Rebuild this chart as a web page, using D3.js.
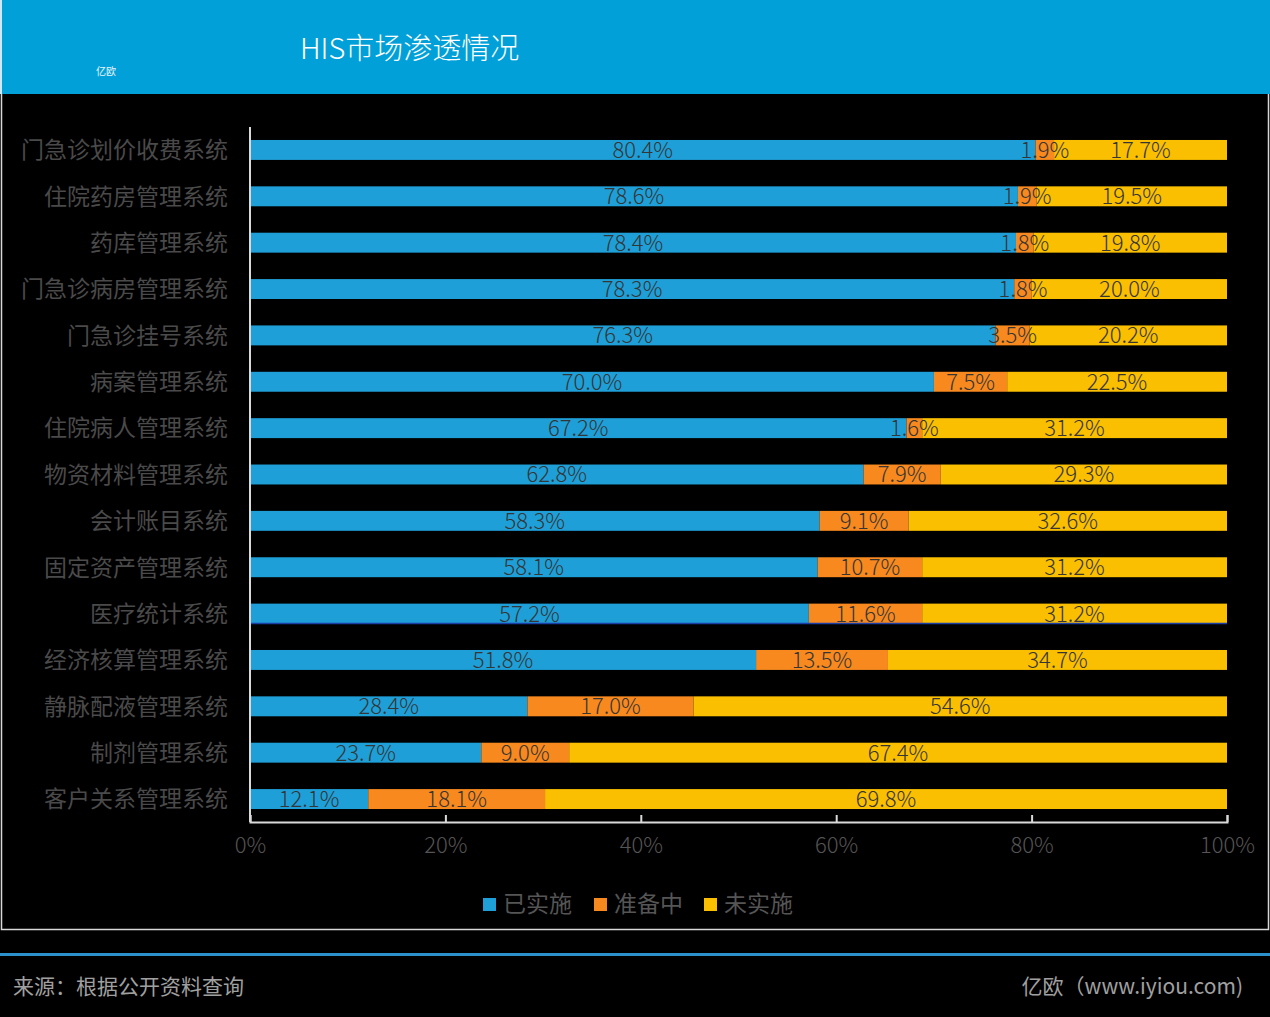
<!DOCTYPE html>
<html>
<head>
<meta charset="utf-8">
<script src="https://cdn.jsdelivr.net/npm/d3@7"></script>
<style>
  body { margin: 0; background: #000; }
  svg text { font-family: "Noto Sans CJK SC", "Noto Sans", sans-serif; }
</style>
</head>
<body>
<div id="chart"></div>
<script>
// categories, top to bottom
var categories = ['门急诊划价收费系统', '住院药房管理系统', '药库管理系统', '门急诊病房管理系统', '门急诊挂号系统',
    '病案管理系统', '住院病人管理系统', '物资材料管理系统', '会计账目系统', '固定资产管理系统',
    '医疗统计系统', '经济核算管理系统', '静脉配液管理系统', '制剂管理系统', '客户关系管理系统'];
var done = [80.4, 78.6, 78.4, 78.3, 76.3, 70.0, 67.2, 62.8, 58.3, 58.1, 57.2, 51.8, 28.4, 23.7, 12.1];
var preparing = [1.9, 1.9, 1.8, 1.8, 3.5, 7.5, 1.6, 7.9, 9.1, 10.7, 11.6, 13.5, 17.0, 9.0, 18.1];
var notDone = [17.7, 19.5, 19.8, 20.0, 20.2, 22.5, 31.2, 29.3, 32.6, 31.2, 31.2, 34.7, 54.6, 67.4, 69.8];
var seriesNames = ['已实施', '准备中', '未实施'];
var xTicks = [0, 0.2, 0.4, 0.6, 0.8, 1];

var colors = ['#1f9fd7', '#f7891f', '#f9bf00'];

var W = 1270, H = 1017;
var svg = d3.select('#chart').append('svg')
    .attr('width', W)
    .attr('height', H);

svg.append('rect').attr('width', W).attr('height', H).attr('fill', '#000');

// header band
svg.append('rect')
    .attr('x', 0).attr('y', 0)
    .attr('width', W).attr('height', 94)
    .attr('fill', '#01a0d8');
svg.append('line')
    .attr('x1', 1).attr('x2', 1).attr('y1', 0).attr('y2', 94)
    .attr('stroke', '#cfe9f5').attr('stroke-width', 2);
svg.append('text')
    .attr('x', 96).attr('y', 75)
    .attr('font-size', '10px')
    .attr('fill', '#e6f5fb')
    .text('亿欧');
svg.append('text')
    .attr('x', 300).attr('y', 59)
    .attr('font-size', '29px')
    .attr('font-weight', 300)
    .attr('fill', '#fff')
    .text('HIS市场渗透情况');

// frame around the chart area
svg.append('path')
    .attr('d', 'M1.5,94 V929.5 H1268.5 V94')
    .attr('fill', 'none')
    .attr('stroke', '#d8d8d8')
    .attr('stroke-width', 1.5);

// footer
svg.append('rect')
    .attr('x', 0).attr('y', 953)
    .attr('width', W).attr('height', 3)
    .attr('fill', '#2d91cc');
svg.append('text')
    .attr('x', 13).attr('y', 994)
    .attr('font-size', '21px')
    .attr('fill', '#a0a0a0')
    .text('来源：根据公开资料查询');
svg.append('text')
    .attr('x', 1243).attr('y', 994)
    .attr('text-anchor', 'end')
    .attr('font-size', '21px')
    .attr('fill', '#a0a0a0')
    .text('亿欧（www.iyiou.com)');

// scales
var plotLeft = 250, plotRight = 1227, plotTop = 127, plotBottom = 822;
var x = d3.scaleLinear().domain([0, 1]).range([plotLeft, plotRight]);
var y = d3.scaleBand().domain(categories).range([plotTop, plotBottom]).paddingInner(0.57).paddingOuter(0.28);

// build stacked rows (normalised to 100%)
var rows = categories.map(function(c, i) {
    var vals = [done[i], preparing[i], notDone[i]];
    var total = d3.sum(vals);
    var x0 = 0;
    return vals.map(function(v, k) {
        var seg = { cat: c, k: k, v: v, x0: x0 / total, x1: (x0 + v) / total };
        x0 += v;
        return seg;
    });
});
var segs = [].concat.apply([], rows);

var g = svg.append('g');

g.selectAll('.bar')
    .data(segs)
    .enter()
    .append('rect')
    .attr('class', 'bar')
    .attr('x', function(d) { return x(d.x0); })
    .attr('y', function(d) { return y(d.cat); })
    .attr('width', function(d) { return x(d.x1) - x(d.x0); })
    .attr('height', y.bandwidth())
    .attr('fill', function(d) { return colors[d.k]; });

// highlighted row underline (医疗统计系统)
g.append('line')
    .attr('x1', x(0)).attr('x2', x(1))
    .attr('y1', y('医疗统计系统') + y.bandwidth())
    .attr('y2', y('医疗统计系统') + y.bandwidth())
    .attr('stroke', '#1b3fa6')
    .attr('stroke-width', 1.5);

// value labels
g.selectAll('.val')
    .data(segs)
    .enter()
    .append('text')
    .attr('class', 'val')
    .attr('x', function(d) { return (x(d.x0) + x(d.x1)) / 2; })
    .attr('y', function(d) { return y(d.cat) + y.bandwidth() / 2; })
    .attr('dy', '0.36em')
    .attr('text-anchor', 'middle')
    .attr('font-size', '22px')
    .attr('font-weight', 300)
    .attr('fill', '#353535')
    .text(function(d) { return d.v.toFixed(1) + '%'; });

// category labels
g.selectAll('.cat')
    .data(categories)
    .enter()
    .append('text')
    .attr('class', 'cat')
    .attr('x', 228)
    .attr('y', function(d) { return y(d) + y.bandwidth() / 2; })
    .attr('dy', '0.36em')
    .attr('text-anchor', 'end')
    .attr('font-size', '23px')
    .attr('fill', '#4a4a4a')
    .text(function(d) { return d; });

// axes
g.append('line')
    .attr('x1', plotLeft).attr('x2', plotLeft).attr('y1', plotTop).attr('y2', plotBottom)
    .attr('stroke', '#d9d9d9').attr('stroke-width', 2);

var xAxis = g.append('g')
    .attr('transform', 'translate(0,' + plotBottom + ')')
    .call(d3.axisBottom(x).tickValues(xTicks).tickSize(-7).tickPadding(20)
        .tickFormat(d3.format('.0%')));
xAxis.select('.domain').attr('stroke', '#d9d9d9').attr('stroke-width', 2);
xAxis.selectAll('.tick line').attr('stroke', '#d9d9d9').attr('stroke-width', 2);
xAxis.selectAll('.tick text')
    .attr('font-size', '22px')
    .attr('font-weight', 300)
    .attr('fill', '#555')
    .attr('dy', '0.5em');

// legend
var legendX = [483, 594, 704];
var legend = svg.append('g');
seriesNames.forEach(function(name, i) {
    legend.append('rect')
        .attr('x', legendX[i]).attr('y', 898)
        .attr('width', 13).attr('height', 13)
        .attr('fill', colors[i]);
    legend.append('text')
        .attr('x', legendX[i] + 20).attr('y', 904)
        .attr('dy', '0.36em')
        .attr('font-size', '23px')
        .attr('fill', '#555')
        .text(name);
});
</script>
</body>
</html>
